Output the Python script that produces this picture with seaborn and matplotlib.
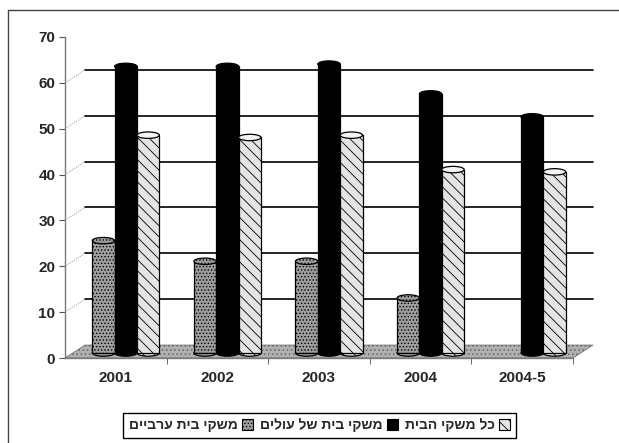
import numpy as np
import pandas as pd
import matplotlib
matplotlib.use('Agg')
import matplotlib.pyplot as plt
import seaborn as sns
from matplotlib.patches import Ellipse, Polygon, Patch
from matplotlib.transforms import ScaledTranslation
from matplotlib.lines import Line2D

# ---- data ----
years = ['2001', '2002', '2003', '2004', '2004-5']
arab = [24.5, 20, 20, 12, np.nan]
olim = [62.5, 62.5, 63, 56.5, 51.5]
all_hh = [47.5, 47, 47.5, 40, 39.5]
series_names = ['משקי בית ערביים', 'משקי בית של עולים', 'כל משקי הבית']
y_ticks = [0, 10, 20, 30, 40, 50, 60, 70]


def vis(s):
    # matplotlib has no bidi support: give Hebrew in visual order
    return s[::-1]


df = pd.DataFrame({
    'year': years * 3,
    'value': arab + olim + all_hh,
    'series': [n for n in series_names for _ in years],
})

sns.set_style('white')
plt.rcParams['font.family'] = ['Liberation Sans', 'DejaVu Sans']
plt.rcParams['font.weight'] = 'bold'
plt.rcParams['hatch.linewidth'] = 0.6

W, H = 619, 443
fig = plt.figure(figsize=(W / 100, H / 100), dpi=100)
ax = fig.add_axes([65 / W, (H - 358) / H, (573 - 65) / W, (358 - 37) / H])

face = ['#9e9e9e', '#000000', '#e4e4e4']
hatches = ['.....', '', '\\\\\\']
sns.barplot(data=df, x='year', y='value', hue='series', hue_order=series_names,
            order=years, palette=face, width=0.66, gap=0, ax=ax, legend=False,
            edgecolor='black', linewidth=0.9, saturation=1, zorder=2)

ax.set_ylim(0, 70)
ax.set_xlim(-0.5, len(years) - 0.5)
ax.set_yticks(y_ticks)
ax.set_xlabel('')
ax.set_ylabel('')

# pseudo-3D offsets
depth_x = 0.197   # categories
depth_y = 2.83    # value units
off = ScaledTranslation(10 / 100, 5 / 100, fig.dpi_scale_trans)
cap_h = 1.4

for i, cont in enumerate(ax.containers):
    for bar in cont:
        h = bar.get_height()
        if h is None or np.isnan(h):
            bar.set_visible(False)
            continue
        bar.set_hatch(hatches[i])
        tr = ax.transData + off
        bar.set_transform(tr)
        cx = bar.get_x() + bar.get_width() / 2
        w = bar.get_width()
        bottom = Ellipse((cx, 0), w, cap_h, facecolor=face[i], edgecolor='black',
                         lw=0.9, hatch=hatches[i], transform=tr, zorder=1.9, clip_on=False)
        top = Ellipse((cx, h), w, cap_h, facecolor=face[i] if i != 2 else '#f4f4f4',
                      edgecolor='black', lw=0.9, hatch=hatches[i] if i == 0 else '',
                      transform=tr, zorder=2.1, clip_on=False)
        ax.add_patch(bottom)
        ax.add_patch(top)

# floor
x0, x1 = -0.5, len(years) - 0.5
floor = Polygon([(x0, 0), (x1, 0), (x1 + depth_x, depth_y), (x0 + depth_x, depth_y)],
                closed=True, facecolor='#b0b0b0', edgecolor='#666666', lw=0.5,
                hatch='....', zorder=1, clip_on=False)
ax.add_patch(floor)

# back wall gridlines and connectors
for v in y_ticks[1:-1]:
    ax.plot([x0 + depth_x, x1 + depth_x], [v + depth_y] * 2, color='black', lw=1.2,
            zorder=0.5, clip_on=False)
    ax.plot([x0, x0 + depth_x], [v, v + depth_y], color='#777777', lw=0.6, ls=':',
            zorder=0.5, clip_on=False)

# axes styling
for s in ['top', 'right']:
    ax.spines[s].set_visible(False)
for s in ['left', 'bottom']:
    ax.spines[s].set_color('#7a7a7a')
    ax.spines[s].set_linewidth(1)
ax.set_xticks(np.arange(len(years)))
ax.set_xticklabels(years, fontsize=11, fontweight='bold')
ax.set_xticks(np.arange(len(years)) + 0.5, minor=True)
ax.tick_params(axis='x', which='major', length=0, pad=9)
ax.tick_params(axis='x', which='minor', length=4, color='#555555', bottom=True, direction='out')
ax.tick_params(axis='y', left=True, length=4, color='#555555', pad=3, labelsize=11)
for lab in ax.get_yticklabels():
    lab.set_fontweight('bold')

# legend
handles = [Patch(facecolor=face[i], edgecolor='black', hatch=hatches[i], lw=0.8)
           for i in range(3)]
leg = fig.legend(handles, [vis(n) for n in series_names], loc='center',
                 bbox_to_anchor=(319.5 / W, (H - 425.5) / H), ncol=3, markerfirst=False,
                 frameon=True, fancybox=False, edgecolor='black', fontsize=10,
                 handlelength=0.8, handleheight=0.8, columnspacing=0.5,
                 handletextpad=0.3, borderpad=0.4, framealpha=1)
leg.get_frame().set_linewidth(1)

# outer chart border
fig.add_artist(Line2D([8 / W, 8 / W], [0, (H - 10) / H], color='#444444', lw=1,
                      transform=fig.transFigure))
fig.add_artist(Line2D([8 / W, 1], [(H - 10) / H] * 2, color='#444444', lw=1,
                      transform=fig.transFigure))

fig.savefig('out.png', dpi=100)
